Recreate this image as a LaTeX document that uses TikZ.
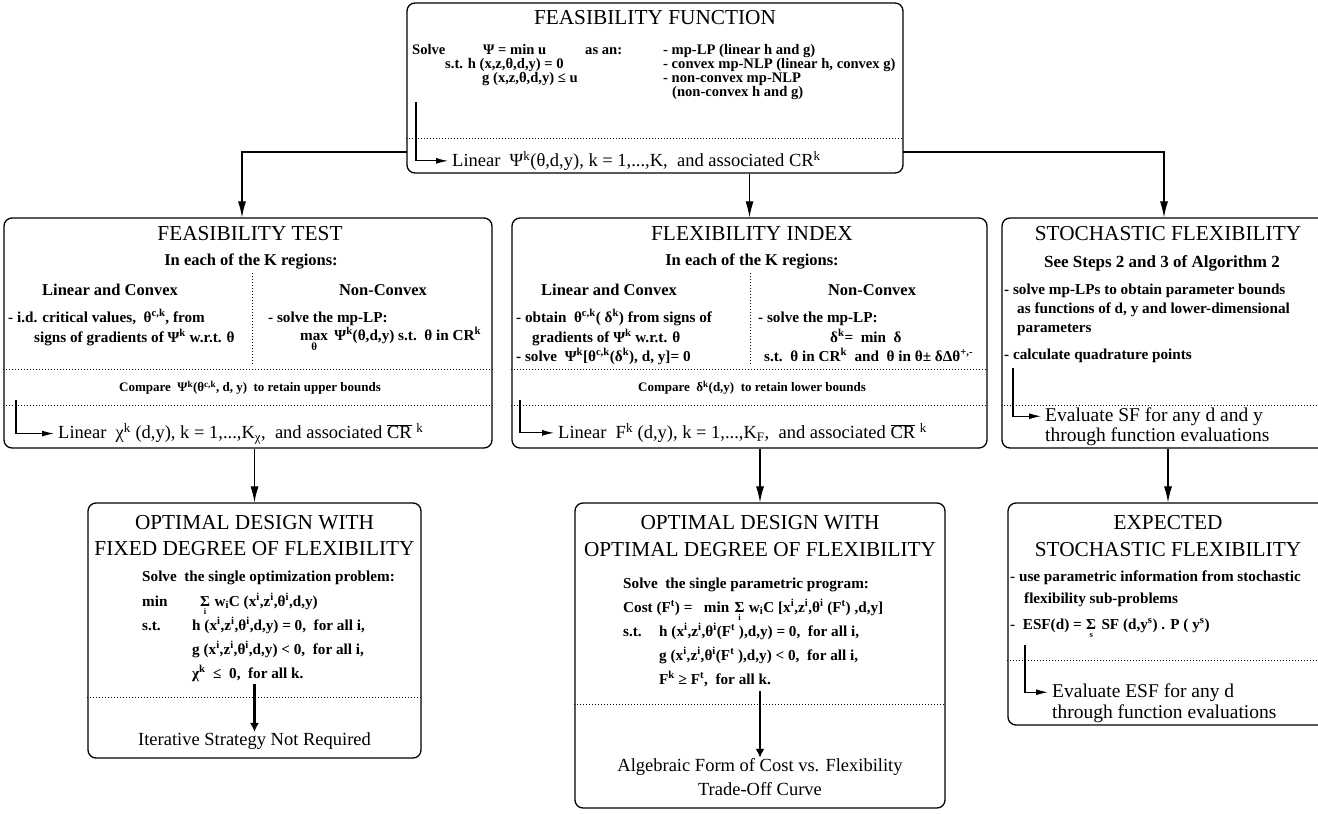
\documentclass[tikz,border=0pt]{standalone}
\usepackage{fontspec}
\setmainfont{Liberation Serif}
\usetikzlibrary{arrows.meta}
\newcommand\bdyf{\fontsize{15.2}{17}\selectfont\bfseries}
\newcommand\topf{\fontsize{14.6}{16}\selectfont\bfseries}
\newcommand\hdf{\fontsize{16.5}{18}\selectfont\bfseries}
\newcommand\cmpf{\fontsize{13}{15}\selectfont\bfseries}
\newcommand\ttlf{\fontsize{21.3}{24}\selectfont}
\newcommand\linf{\fontsize{18.5}{22}\selectfont}
\newcommand\evf{\fontsize{19.5}{22}\selectfont}
\newcommand\subf{\fontsize{8.5}{9}\selectfont\bfseries}
\newcommand\sps[1]{\textsuperscript{#1}}
\newcommand\sbs[1]{\textsubscript{#1}}
\newcommand\ovCR{\ensuremath{\overline{\hbox{CR}}}}
\begin{document}
\begin{tikzpicture}[x=1pt,y=-1pt,
  box/.style={draw, line width=1.3pt, rounded corners=8pt, inner sep=0pt},
  conn/.style={line width=1.1pt, -{Latex[length=16pt,width=8pt]}},
  larr/.style={line width=1.1pt, -{Latex[length=12pt,width=6pt]}, shorten >=4pt},
  thk/.style={line width=2.4pt, -{Latex[length=9pt,width=9pt]}},
  dots/.style={line width=1pt, dash pattern=on 1pt off 2pt},
  tl/.style={inner sep=0pt, anchor=base west, font=\bdyf},
  tt/.style={inner sep=0pt, anchor=base west, font=\topf},
  tc/.style={inner sep=0pt, anchor=base, font=\hdf},
  sub/.style={inner sep=0pt, anchor=north, font=\subf},
  cmp/.style={inner sep=0pt, anchor=base, font=\cmpf},
  ttl/.style={inner sep=0pt, anchor=base, font=\ttlf},
  lin/.style={inner sep=0pt, anchor=base west, font=\linf},
  ev/.style={inner sep=0pt, anchor=base west, font=\evf},
  linc/.style={inner sep=0pt, anchor=base, font=\linf}]
\fill[white] (0,0) rectangle (1318,814);
\useasboundingbox (0,0) rectangle (1318,814);

% ---------- boxes ----------
\node[box, minimum width=496pt, minimum height=170pt] (ff) at (655,88) {};
\node[box, minimum width=488pt, minimum height=230pt] (ft) at (248,333) {};
\node[box, minimum width=475pt, minimum height=230pt] (fi) at (749.5,333) {};
\node[box, minimum width=332pt, minimum height=230pt] (sf) at (1168,333) {};
\node[box, minimum width=333pt, minimum height=255pt] (bl) at (254.5,630.5) {};
\node[box, minimum width=370pt, minimum height=305pt] (bm) at (760,655.5) {};
\node[box, minimum width=320pt, minimum height=222pt] (br) at (1168,614) {};

% ---------- feasibility function ----------
\node[ttl] (ffT) at (655,24.5) {FEASIBILITY FUNCTION};
\node[tt] (ff1a) at (412,54) {Solve};
\node[tt] (ff1b) at (483,54) {Ψ = min u};
\node[tt] (ff1c) at (585,54) {as an:};
\node[tt] (ff1d) at (663,54) {- mp-LP (linear h and g)};
\node[tt] (ff2a) at (445,68) {s.t. h (x,z,θ,d,y) = 0};
\node[tt] (ff2b) at (663,68) {- convex mp-NLP (linear h, convex g)};
\node[tt] (ff3a) at (482,82) {g (x,z,θ,d,y) ≤ u};
\node[tt] (ff3b) at (663,82) {- non-convex mp-NLP};
\node[tt] (ff4) at (672,96) {(non-convex h and g)};
\draw[dots] (ff.west |- 0,138) -- (ff.east |- 0,138);
\node[lin] (fflin) at (452,166.5) {Linear\ \ Ψ\sps{k}(θ,d,y), k = 1,...,K,\ \ and associated CR\sps{k}};
\coordinate (ffLs) at (416,102);
\draw[larr] (ffLs) |- (fflin.west);

% ---------- connectors from top ----------
\coordinate (ffW) at (407,152);
\coordinate (ffE) at (903,152);
\draw[conn] (ffW) -| ([xshift=-6pt]ft.north);
\draw[conn] (ff.south -| fi.north) -- (fi.north);
\draw[conn] (ffE) -| ([xshift=-4pt]sf.north);

% ---------- feasibility test ----------
\node[ttl] (ftT) at (250,240.5) {FEASIBILITY TEST};
\node[tc] (ftS) at (251,265) {In each of the K regions:};
\draw[dots] (252,273) -- (252,364);
\node[tc] (ftH1) at (110,295.5) {Linear and Convex};
\node[tc] (ftH2) at (383,295.5) {Non-Convex};
\node[tl] (ftA1) at (8,322) {- i.d. critical values,\ \ θ\sps{c,k}, from};
\node[tl] (ftA2) at (34,342) {signs of gradients of Ψ\sps{k} w.r.t. θ};
\node[tl] (ftB1) at (268,322) {- solve the mp-LP:};
\node[tl] (ftMx) at (300,340) {max};
\node[sub, font=\fontsize{11}{12}\selectfont\bfseries] (ftMxT) at ([yshift=-2.5pt]ftMx.south) {θ};
\node[tl] (ftB2) at ([xshift=6pt]ftMx.base east) {Ψ\sps{k}(θ,d,y) s.t.\ \ θ in CR\sps{k}};
\draw[dots] (ft.west |- 0,369) -- (ft.east |- 0,369);
\node[cmp] (ftC) at (250,391.5) {Compare\ \ Ψ\sps{k}(θ\sps{c,k}, d, y)\ \ to retain upper bounds};
\draw[dots] (ft.west |- 0,405) -- (ft.east |- 0,405);
\node[lin] (ftlin) at (58,438.5) {Linear\ \ χ\sps{k} (d,y), k = 1,...,K\sbs{χ},\ \ and associated \ovCR\ \sps{k}};
\coordinate (ftLs) at (16,400);
\draw[larr] (ftLs) |- (ftlin.west);

% ---------- flexibility index ----------
\node[ttl] (fiT) at (752,240.5) {FLEXIBILITY INDEX};
\node[tc] (fiS) at (752,265) {In each of the K regions:};
\draw[dots] (750,273) -- (750,364);
\node[tc] (fiH1) at (609,295.5) {Linear and Convex};
\node[tc] (fiH2) at (872,295.5) {Non-Convex};
\node[tl] (fiA1) at (516,322) {- obtain\ \ θ\sps{c,k}( δ\sps{k}) from signs of};
\node[tl] (fiA2) at (532,342) {gradients of Ψ\sps{k} w.r.t. θ};
\node[tl] (fiA3) at (516,361) {- solve\ \ Ψ\sps{k}[θ\sps{c,k}(δ\sps{k}), d, y]= 0};
\node[tl] (fiB1) at (758,322) {- solve the mp-LP:};
\node[tl] (fiB2) at (830,342) {δ\sps{k}= \ min\ \ δ};
\node[tl] (fiB3) at (764,361) {s.t.\ \ θ in CR\sps{k}\ \ and\ \ θ in θ± δΔθ\sps{+,-}};
\draw[dots] (fi.west |- 0,369) -- (fi.east |- 0,369);
\node[cmp] (fiC) at (752,391.5) {Compare\ \ δ\sps{k}(d,y)\ \ to retain lower bounds};
\draw[dots] (fi.west |- 0,405) -- (fi.east |- 0,405);
\node[lin] (filin) at (558,438.5) {Linear\ \ F\sps{k} (d,y), k = 1,...,K\sbs{F},\ \ and associated \ovCR\ \sps{k}};
\coordinate (fiLs) at (520,400);
\draw[larr] (fiLs) |- (filin.west);

% ---------- stochastic flexibility ----------
\node[ttl] (sfT) at (1168,240.5) {STOCHASTIC FLEXIBILITY};
\node[tc, font=\fontsize{17}{19}\selectfont\bfseries] (sfS) at (1162,267) {See Steps 2 and 3 of Algorithm 2};
\node[tl] (sfA1) at (1004,294) {- solve mp-LPs to obtain parameter bounds};
\node[tl] (sfA2) at (1017,313) {as functions of d, y and lower-dimensional};
\node[tl] (sfA3) at (1017,332) {parameters};
\node[tl] (sfB1) at (1004,359) {- calculate quadrature points};
\draw[dots] (sf.west |- 0,405) -- (1318,405);
\node[ev] (sfE1) at (1045,421) {Evaluate SF for any d and y};
\node[ev] (sfE2) at (1045,441.5) {through function evaluations};
\coordinate (sfLs) at (1013,368);
\draw[larr] (sfLs) |- (sfE1.west);

% ---------- connectors to bottom ----------
\draw[conn] (ft.south -| bl.north) -- (bl.north);
\draw[conn] (fi.south -| bm.north) -- (bm.north);
\draw[conn] (sf.south -| br.north) -- (br.north);

% ---------- fixed degree ----------
\node[ttl] (blT1) at (254.5,529.5) {OPTIMAL DESIGN WITH};
\node[ttl] (blT2) at (254.5,555.5) {FIXED DEGREE OF FLEXIBILITY};
\node[tl] (blS) at (142,581) {Solve\ \ the single optimization problem:};
\node[tl] (blM1) at (142,606) {min};
\node[tl] (blSg) at (200,606) {Σ};
\node[sub] (blSgi) at ([yshift=-2pt]blSg.south) {i};
\node[tl] (blM2) at ([xshift=4pt]blSg.base east) {w\sbs{i}C (x\sps{i},z\sps{i},θ\sps{i},d,y)};
\node[tl] (blH1) at (142,630) {s.t.};
\node[tl] (blH2) at (192,630) {h (x\sps{i},z\sps{i},θ\sps{i},d,y) = 0,\ \ for all i,};
\node[tl] (blG) at (192,654) {g (x\sps{i},z\sps{i},θ\sps{i},d,y) < 0,\ \ for all i,};
\node[tl] (blX) at (192,678) {χ\sps{k}\ \ ≤\ \ 0,\ \ for all k.};
\draw[dots] (bl.west |- 0,697) -- (bl.east |- 0,697);
\node[linc] (blI) at (254.5,745) {Iterative Strategy Not Required};
\coordinate (blAs) at (254.5,684);
\draw[thk] (blAs) -- (blI.north);

% ---------- optimal degree ----------
\node[ttl] (bmT1) at (760,529.5) {OPTIMAL DESIGN WITH};
\node[ttl] (bmT2) at (760,556.5) {OPTIMAL DEGREE OF FLEXIBILITY};
\node[tl] (bmS) at (623,588) {Solve\ \ the single parametric program:};
\node[tl] (bmC1) at (623,612) {Cost (F\sps{t}) =\ \ \ min};
\node[tl] (bmSg) at ([xshift=5pt]bmC1.base east) {Σ};
\node[sub] (bmSgi) at ([yshift=-2pt]bmSg.south) {i};
\node[tl] (bmC2) at ([xshift=4pt]bmSg.base east) {w\sbs{i}C [x\sps{i},z\sps{i},θ\sps{i} (F\sps{t}) ,d,y]};
\node[tl] (bmH1) at (623,636) {s.t.};
\node[tl] (bmH2) at (659,636) {h (x\sps{i},z\sps{i},θ\sps{i}(F\sps{t} ),d,y) = 0,\ \ for all i,};
\node[tl] (bmG) at (659,660) {g (x\sps{i},z\sps{i},θ\sps{i}(F\sps{t} ),d,y) < 0,\ \ for all i,};
\node[tl] (bmF) at (659,684) {F\sps{k}\ ≥\ F\sps{t},\ \ for all k.};
\draw[dots] (bm.west |- 0,704) -- (bm.east |- 0,704);
\node[linc] (bmA1) at (760,771) {Algebraic Form of Cost vs. Flexibility};
\node[linc] (bmA2) at (760,795) {Trade-Off Curve};
\coordinate (bmAs) at (760,691);
\draw[thk] (bmAs) -- (bmA1.north);

% ---------- expected stochastic ----------
\node[ttl] (brT1) at (1168,529.5) {EXPECTED};
\node[ttl] (brT2) at (1168,556.5) {STOCHASTIC FLEXIBILITY};
\node[tl] (brA1) at (1010,581) {- use parametric information from stochastic};
\node[tl] (brA2) at (1024,603) {flexibility sub-problems};
\node[tl] (brB1) at (1010,629) {-\ \ ESF(d) =};
\node[tl] (brSg) at ([xshift=4pt]brB1.base east) {Σ};
\node[sub] (brSgs) at ([yshift=-4.5pt]brSg.south) {s};
\node[tl] (brB2) at ([xshift=5pt]brSg.base east) {SF (d,y\sps{s}) . P ( y\sps{s})};
\draw[dots] (br.west |- 0,660) -- (1318,660);
\node[ev] (brE1) at (1052,697) {Evaluate ESF for any d};
\node[ev] (brE2) at (1052,718) {through function evaluations};
\coordinate (brLs) at (1025,645);
\draw[larr] (brLs) |- (brE1.west);
\end{tikzpicture}
\end{document}
